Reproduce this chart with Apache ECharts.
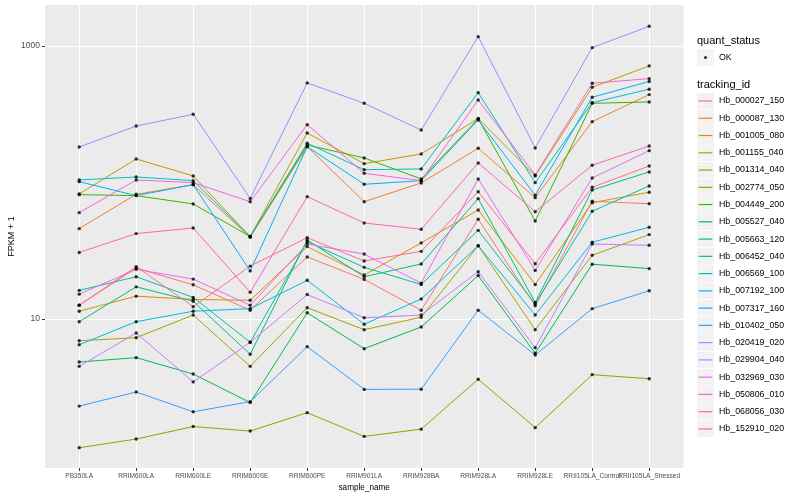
<!DOCTYPE html>
<html><head><meta charset="utf-8">
<script src="https://cdn.jsdelivr.net/npm/echarts@6/dist/echarts.min.js"></script>
<style>html,body{margin:0;padding:0;background:#fff}#c{width:800px;height:500px}</style>
</head><body><div id="c"></div>
<script>
// ---- data ----
const sampleNames = ['PB350LA','RRIM600LA','RRIM600LE','RRIM600SE','RRIM600PE','RRIM901LA','RRIM928BA','RRIM928LA','RRIM928LE','RRII105LA_Control','RRII105LA_Stressed'];
const trackingIds = ['Hb_000027_150','Hb_000087_130','Hb_001005_080','Hb_001155_040','Hb_001314_040','Hb_002774_050','Hb_004449_200','Hb_005527_040','Hb_005663_120','Hb_006452_040','Hb_006569_100','Hb_007192_100','Hb_007317_160','Hb_010402_050','Hb_020419_020','Hb_029904_040','Hb_032969_030','Hb_050806_010','Hb_068056_030','Hb_152910_020'];
const quantStatus = ['OK'];
const yTickLabels = [10, 1000];

// FPKM + 1 per sample (same order as sampleNames)
const hb_000027_150 = [12.6, 23.6, 17.8, 11.6, 28.5, 19.5, 11.6, 53.8, 12.5, 72.8, 69.9];
const hb_000087_130 = [45.9, 81.9, 96.4, 39.7, 183, 72.3, 99.2, 178, 77.4, 279, 440];
const hb_001005_080 = [11.4, 14.7, 13.9, 13.7, 33.9, 21.0, 36.1, 62.9, 17.9, 71.1, 84.8];
const hb_001155_040 = [82.4, 148.7, 111.6, 40.2, 230.5, 137.3, 161.7, 294.3, 111.6, 498, 714];
const hb_001314_040 = [6.93, 7.29, 10.7, 4.50, 12.1, 8.35, 10.3, 34.4, 8.35, 29.3, 41.5];
const hb_002774_050 = [1.14, 1.32, 1.63, 1.51, 2.06, 1.38, 1.56, 3.62, 1.60, 3.91, 3.65];
const hb_004449_200 = [81.4, 80.1, 69.6, 40.2, 188, 151.2, 106.1, 293.4, 52.2, 380, 389];
const hb_005527_040 = [4.84, 5.21, 3.95, 2.44, 11.1, 6.06, 8.74, 20.8, 5.61, 25.2, 23.4];
const hb_005663_120 = [9.55, 17.2, 13.5, 5.51, 37.9, 20.4, 25.3, 76.1, 13.2, 88.1, 119.4];
const hb_006452_040 = [16.2, 20.4, 14.4, 6.75, 36.8, 23.9, 17.9, 44.6, 12.9, 61.5, 94.3];
const hb_006569_100 = [104.3, 109.7, 103.1, 40.2, 193.8, 124.1, 125.6, 455, 99.7, 384, 482];
const hb_007192_100 = [6.48, 9.55, 11.4, 11.9, 19.2, 9.15, 14.0, 34.4, 10.7, 36.5, 47.0];
const hb_007317_160 = [101.4, 80.1, 96.4, 22.5, 183, 97.0, 103.1, 287, 80.6, 421, 549];
const hb_010402_050 = [2.30, 2.92, 2.09, 2.48, 6.27, 3.05, 3.06, 11.6, 5.45, 11.9, 16.1];
const hb_020419_020 = [182, 259, 316, 76.4, 536, 380, 242, 1170, 179, 972, 1394];
const hb_029904_040 = [4.50, 7.90, 3.46, 6.75, 15.1, 10.2, 10.7, 22.2, 6.16, 35.4, 34.7];
const hb_032969_030 = [15.2, 23.1, 19.6, 12.6, 35.4, 29.9, 18.3, 106.1, 22.7, 107.9, 171];
const hb_050806_010 = [60.1, 104.3, 99.7, 72.3, 265, 116.8, 103.1, 402, 113.5, 533, 576];
const hb_068056_030 = [30.7, 42.2, 46.4, 15.7, 78.7, 50.5, 45.4, 139, 61.1, 133.7, 185];
const hb_152910_020 = [12.6, 24.2, 12.3, 24.4, 39.4, 26.6, 31.3, 85.6, 25.4, 92.2, 132];

const seriesValues = [hb_000027_150, hb_000087_130, hb_001005_080, hb_001155_040, hb_001314_040,
  hb_002774_050, hb_004449_200, hb_005527_040, hb_005663_120, hb_006452_040, hb_006569_100,
  hb_007192_100, hb_007317_160, hb_010402_050, hb_020419_020, hb_029904_040, hb_032969_030,
  hb_050806_010, hb_068056_030, hb_152910_020];

// ---- styles ----
const palette = ['#F8766D','#EA8331','#D89000','#C09B00','#A3A500','#7CAE00','#39B600','#00BB4E','#00BF7D','#00C1A3',
  '#00BFC4','#00BAE0','#00B0F6','#35A2FF','#9590FF','#C77CFF','#E76BF3','#FA62DB','#FF62BC','#FF6C91'];
const FONT = "'Liberation Sans', Arial, sans-serif";
const idx = sampleNames.map((_, i) => i);
const X_MIN = -0.6, X_MAX = sampleNames.length - 1 + 0.6;

function svgIcon(inner) {
  const svg = "<svg xmlns='http://www.w3.org/2000/svg' width='17' height='17' viewBox='0 0 17 17'>" +
    "<rect width='17' height='17' fill='#F2F2F2'/>" + inner + "</svg>";
  return 'image://data:image/svg+xml;charset=utf-8,' + encodeURIComponent(svg);
}
const lineKey = c => svgIcon("<rect x='1.7' y='7.9' width='13.6' height='1.2' fill='" + c + "'/>");
const dotKey = svgIcon("<circle cx='8.5' cy='8.5' r='1.6' fill='#000'/>");

const lineSeries = trackingIds.map((id, k) => ({
  name: id, type: 'line', color: palette[k],
  data: seriesValues[k].map((v, i) => [i, v]),
  showSymbol: false, symbol: 'none',
  lineStyle: { width: 1, color: palette[k] },
  z: 2, silent: true, animation: false
}));
const pointSeries = {
  name: quantStatus[0], type: 'scatter',
  data: seriesValues.flatMap(vals => vals.map((v, i) => [i, v])),
  symbol: 'circle', symbolSize: 3.4, itemStyle: { color: '#000' },
  z: 3, silent: true, animation: false
};

const legendText = { fontFamily: FONT, fontSize: 8.8, color: '#000' };
const chart = echarts.init(document.getElementById('c'), null, { renderer: 'canvas' });
chart.setOption({
  animation: false,
  backgroundColor: '#fff',
  title: [
    { text: 'quant_status', left: 697, top: 35, padding: 0, textStyle: { fontFamily: FONT, fontSize: 11, fontWeight: 'normal', color: '#000' } },
    { text: 'tracking_id', left: 697, top: 79, padding: 0, textStyle: { fontFamily: FONT, fontSize: 11, fontWeight: 'normal', color: '#000' } }
  ],
  legend: [
    { data: quantStatus.map(n => ({ name: n, icon: dotKey })),
      left: 697, top: 49, orient: 'vertical', padding: 0, itemWidth: 17, itemHeight: 17, itemGap: 0,
      selectedMode: false, textStyle: legendText },
    { data: trackingIds.map((n, k) => ({ name: n, icon: lineKey(palette[k]) })),
      left: 697, top: 92.5, orient: 'vertical', padding: 0, itemWidth: 17, itemHeight: 17, itemGap: 0.26,
      selectedMode: false, textStyle: legendText }
  ],
  grid: { left: 45, right: 116.6, top: 5, bottom: 32, show: true, backgroundColor: '#EBEBEB', borderWidth: 0,
    containLabel: false, outerBoundsMode: 'none' },
  xAxis: {
    type: 'value', min: X_MIN, max: X_MAX, splitNumber: 11,
    axisLine: { show: false, onZero: false },
    axisTick: { show: true, length: 3, customValues: idx, lineStyle: { color: '#333', width: 1 } },
    axisLabel: { customValues: [X_MIN, ...idx, X_MAX], formatter: v => (Number.isInteger(v) ? sampleNames[v] : ''),
      margin: 5, hideOverlap: false,
      fontFamily: FONT, fontSize: 6.6, color: '#4D4D4D' },
    splitLine: { show: true, lineStyle: { color: '#fff', width: 1 } },
    name: 'sample_name', nameLocation: 'middle', nameGap: 16, nameMoveOverlap: false,
    nameTextStyle: { fontFamily: FONT, fontSize: 8.2, color: '#000' }
  },
  yAxis: {
    type: 'log', logBase: 10, min: 0.81, max: 1995,
    axisLine: { show: false, onZero: false },
    axisTick: { show: true, length: 3, customValues: yTickLabels, lineStyle: { color: '#333', width: 1 } },
    axisLabel: { customValues: yTickLabels, formatter: v => String(v), margin: 5, hideOverlap: false,
      fontFamily: FONT, fontSize: 8.5, color: '#4D4D4D' },
    splitLine: { show: true, lineStyle: { color: '#fff', width: 1 } },
    name: 'FPKM + 1', nameLocation: 'middle', nameGap: 28.5, nameMoveOverlap: false,
    nameTextStyle: { fontFamily: FONT, fontSize: 9, color: '#000' }
  },
  series: [...lineSeries, pointSeries]
});
</script></body></html>
